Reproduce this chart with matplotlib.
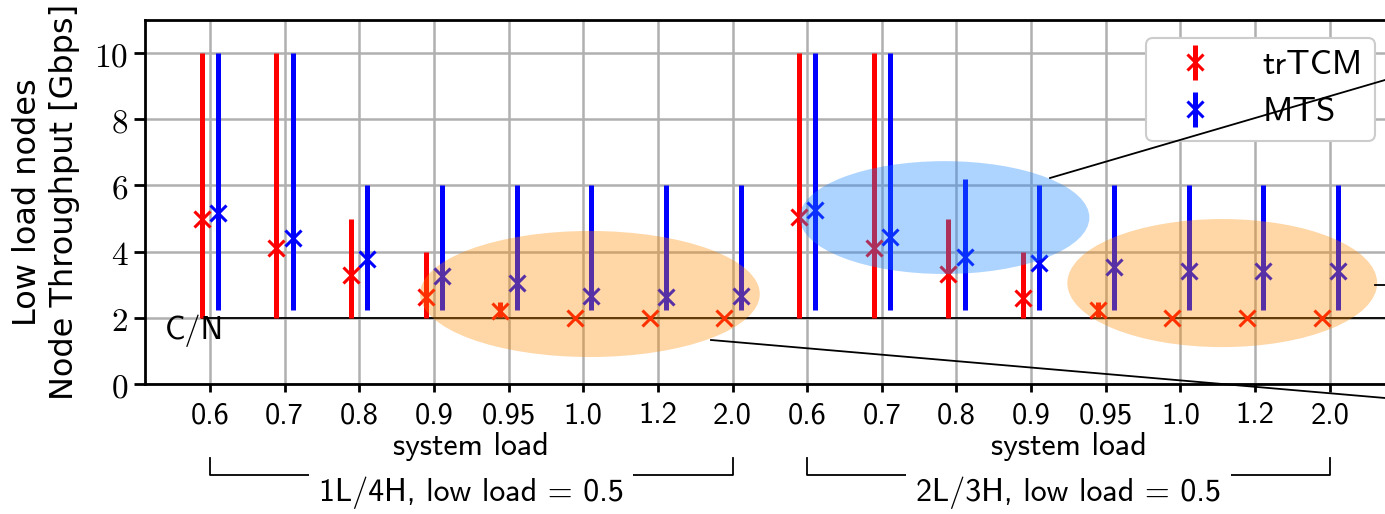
import matplotlib
matplotlib.use("Agg")
import matplotlib.pyplot as plt
from matplotlib.patches import Ellipse
from matplotlib.lines import Line2D
import matplotlib.transforms as mtransforms
import numpy as np

# ---------------- data ----------------
load_labels = ['0.6', '0.7', '0.8', '0.9', '0.95', '1.0', '1.2', '2.0',
               '0.6', '0.7', '0.8', '0.9', '0.95', '1.0', '1.2', '2.0']
group_labels = ['1L/4H, low load = 0.5', '2L/3H, low load = 0.5']
series_names = ['trTCM', 'MTS']

trtcm_mean = [5.0, 4.1, 3.3, 2.62, 2.22, 2.0, 2.0, 2.0,
              5.05, 4.12, 3.32, 2.6, 2.24, 2.0, 2.0, 2.0]
trtcm_low = [2.0, 2.0, 2.0, 2.0, 2.02, 2.0, 2.0, 2.0,
             2.0, 2.0, 2.0, 2.0, 2.02, 2.0, 2.0, 2.0]
trtcm_high = [10.0, 10.0, 5.0, 4.0, 2.48, 2.0, 2.0, 2.0,
              10.0, 10.0, 5.0, 4.0, 2.48, 2.0, 2.0, 2.0]

mts_mean = [5.18, 4.4, 3.77, 3.25, 3.04, 2.65, 2.62, 2.66,
            5.26, 4.45, 3.85, 3.66, 3.55, 3.42, 3.42, 3.4]
mts_low = [2.25] * 16
mts_high = [10.0, 10.0, 6.0, 6.0, 6.0, 6.0, 6.0, 6.0,
            10.0, 10.0, 6.2, 6.0, 6.0, 6.0, 6.0, 6.0]

cn_level = 2.0
cn_label = 'C/N'

# ---------------- style ----------------
plt.rcParams['mathtext.fontset'] = 'cm'
plt.rcParams['font.family'] = ['DejaVu Sans']
SANS = 'cmss10'

W, H = 1385, 514
fig = plt.figure(figsize=(W / 100, H / 100), dpi=100)

px_left, px_right, px_top, px_bottom = 145, 1400, 20, 384
ax = fig.add_axes([px_left / W, 1 - px_bottom / H,
                   (px_right - px_left) / W, (px_bottom - px_top) / H])

x = np.arange(len(load_labels))
off = 0.11

def err(mean, low, high):
    m = np.array(mean); l = np.array(low); h = np.array(high)
    return [np.clip(m - l, 0, None), np.clip(h - m, 0, None)]

eb1 = ax.errorbar(x - off, trtcm_mean, yerr=err(trtcm_mean, trtcm_low, trtcm_high),
                  fmt='x', color='#ff0000', ecolor='#ff0000', elinewidth=3.6,
                  markersize=12, mew=2.2, capsize=0, label=series_names[0], zorder=2)
eb2 = ax.errorbar(x + off, mts_mean, yerr=err(mts_mean, mts_low, mts_high),
                  fmt='x', color='#0000ff', ecolor='#0000ff', elinewidth=3.6,
                  markersize=12, mew=2.2, capsize=0, label=series_names[1], zorder=2)

# C/N line
ax.plot([x[0] - off, 16.5], [cn_level, cn_level], color='black', lw=1.3, zorder=1.5)
ax.text(-0.6, 1.62, cn_label, fontsize=23, family=SANS, va='center', ha='left', zorder=4)

# ellipses (highlight regions)
ax.add_patch(Ellipse((5.09, 2.72), 4.55, 3.81, facecolor='darkorange', alpha=0.35,
                     edgecolor='none', zorder=3))
ax.add_patch(Ellipse((9.84, 5.03), 3.88, 3.41, facecolor='#1e88ff', alpha=0.36,
                     edgecolor='none', zorder=3))
ax.add_patch(Ellipse((13.56, 3.05), 4.15, 3.87, facecolor='darkorange', alpha=0.35,
                     edgecolor='none', zorder=3))

# axes setup
ax.set_xlim(-0.87, (px_right - 210) / 74.65)
ax.set_ylim(0, 11)
ax.set_xticks(x)
ax.set_xticklabels(load_labels, fontsize=22, family=SANS)
yt = [0, 2, 4, 6, 8, 10]
ax.set_yticks(yt)
ax.set_yticklabels([r'$%d$' % v for v in yt], fontsize=24)
ax.tick_params(axis='x', direction='out', length=6, width=2, pad=7)
ax.tick_params(axis='y', direction='out', length=8, width=2, pad=4)
ax.grid(True, color='#b0b0b0', lw=1.8)
ax.set_axisbelow(True)
for s in ['left', 'bottom', 'top']:
    ax.spines[s].set_linewidth(2)
ax.spines['right'].set_visible(False)

ax.set_ylabel('Low load nodes\nNode Throughput [Gbps]', fontsize=23, labelpad=10,
              linespacing=1.25)

# group annotations below axis
trans = mtransforms.blended_transform_factory(ax.transData, ax.transAxes)
groups = [(0, 7), (8, 15)]
for (a, b), glab in zip(groups, group_labels):
    mid = (a + b) / 2
    ax.text(mid, -0.173, 'system load', transform=trans, ha='center',
            va='center', fontsize=23, family=SANS)
    ax.plot([a, a, b, b], [-0.203, -0.25, -0.25, -0.203], transform=trans,
            color='black', lw=1.3, clip_on=False)
    ax.text(mid, -0.30, glab, transform=trans, ha='center', va='center',
            fontsize=23, family=SANS,
            bbox=dict(facecolor='white', edgecolor='none', pad=7), zorder=5)

# legend
leg = ax.legend(handles=[eb1, eb2], loc='upper right',
                bbox_to_anchor=(1375 / W, 1 - 38 / H), bbox_transform=fig.transFigure,
                prop={'family': SANS, 'size': 25}, frameon=True, fancybox=True,
                framealpha=1.0, edgecolor='#cccccc', borderaxespad=0,
                handlelength=2.1, handletextpad=0.9, borderpad=0.35,
                labelspacing=0.45)
leg.get_frame().set_linewidth(1.5)

# connector lines to an (off-figure) inset
def fig_line(p0, p1):
    fig.add_artist(Line2D([p0[0] / W, p1[0] / W], [1 - p0[1] / H, 1 - p1[1] / H],
                          transform=fig.transFigure, color='black', lw=1.3, zorder=10))

fig_line((1050, 178), (1385, 80))
fig_line((711, 340), (1385, 398))
fig_line((1375, 285), (1385, 285))

fig.savefig('out.png', dpi=100)
